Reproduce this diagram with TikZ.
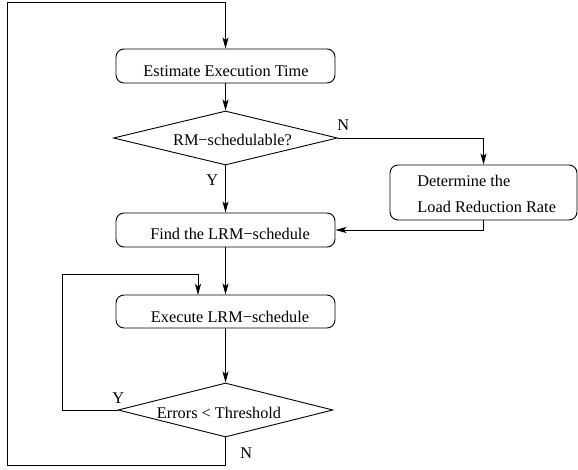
\documentclass[tikz,border=0pt]{standalone}
\usepackage{fontspec}
\setmainfont{Liberation Serif}
\usetikzlibrary{shapes.geometric,arrows.meta}
\begin{document}
\begin{tikzpicture}[x=1pt,y=-1pt,line width=0.9pt,
  font=\fontsize{16.3}{19}\selectfont,
  stepbox/.style={draw,rounded corners=8pt,inner sep=0pt},
  decision/.style={draw,diamond,inner sep=0pt},
  txt/.style={inner sep=0pt,anchor=base},
  lbl/.style={inner sep=0pt,anchor=base west},
  arr/.style={-{Stealth[length=11pt,width=6pt,inset=2.5pt]}}]
\useasboundingbox (0,0) rectangle (578,470);
% shapes
\node[stepbox,minimum width=219pt,minimum height=34pt] (b1) at (225.5,66) {};
\node[decision,minimum width=224pt,minimum height=54pt] (d1) at (225.5,138) {};
\node[stepbox,minimum width=187pt,minimum height=55pt] (b2) at (483.5,192.5) {};
\node[stepbox,minimum width=219pt,minimum height=34pt] (b3) at (225.5,230) {};
\node[stepbox,minimum width=219pt,minimum height=33pt] (b4) at (225.5,311.5) {};
\node[decision,minimum width=215pt,minimum height=54pt] (d2) at (225.5,410) {};
% texts
\node[txt] (t1) at (226,77) {Estimate Execution Time};
\node[txt] (t2) at (232.5,146) {RM−schedulable?};
\node[lbl] (t3a) at (417,187) {Determine the};
\node[lbl] (t3b) at (417,213) {Load Reduction Rate};
\node[txt] (t4) at (230,240) {Find the LRM−schedule};
\node[txt] (t5) at (230,322) {Execute LRM−schedule};
\node[txt] (t6) at (219,418) {Errors < Threshold};
% labels
\node[lbl] (n1) at (337,131) {N};
\node[lbl] (y1) at (206,186) {Y};
\node[lbl] (y2) at (112,403) {Y};
\node[lbl] (n2) at (240,458) {N};
% corner coordinates
\coordinate (c1) at (7,465);
\coordinate (c2) at (7,2);
\coordinate (l1) at (62,274);
\coordinate (l2) at (198,295);
% connectors
\draw[arr] (b1.south) -- (d1.north);
\draw[arr] (d1.east) -| (b2.north);
\draw[arr] (d1.south) -- (b3.north);
\draw[arr] (b2.south) |- (b3.east);
\draw[arr] (b3.south) -- (b4.north);
\draw[arr] (b4.south) -- (d2.north);
\draw[arr] (d2.west) -| (l1) -| (l2);
\draw[arr] (d2.south) |- (c1) -- (c2) -| (b1.north);
\end{tikzpicture}
\end{document}
